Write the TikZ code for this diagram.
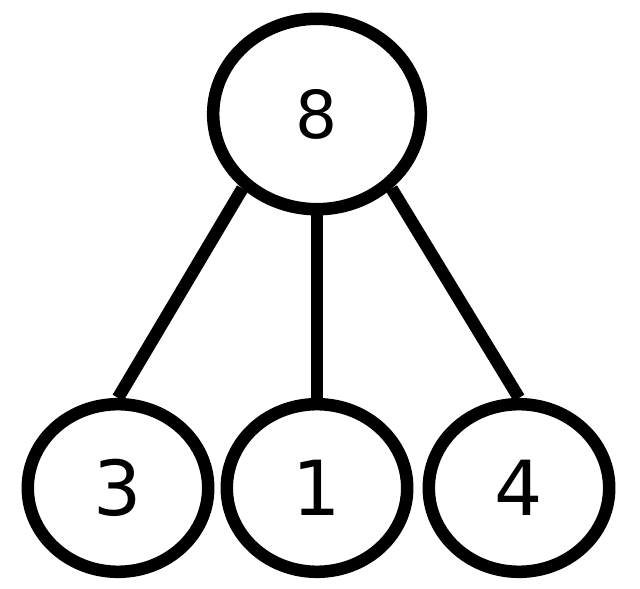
\documentclass[tikz,border=0pt]{standalone}
\usepackage{fontspec}
\setmainfont{DejaVu Sans}
\usetikzlibrary{shapes.geometric}

\begin{document}
\begin{tikzpicture}[
  x=0.025cm,y=-0.025cm,
  bubble/.style={draw=black,ellipse,line width=8.9pt,inner sep=0pt,
    minimum width=4.51cm,minimum height=4.19cm,font=\fontsize{54}{54}\selectfont},
  rootbubble/.style={bubble,minimum width=5.19cm,minimum height=4.76cm,
    font=\fontsize{47}{47}\selectfont},
  line/.style={draw=black,line width=8.9pt},
]
\useasboundingbox (0,0) rectangle (640,589);
\node[rootbubble] (root) at (317,114) {8};
\node[bubble] (c3) at (118,488) {3};
\node[bubble] (c1) at (317,488) {1};
\node[bubble] (c4) at (519,488) {4};
\draw[line] (root.225)--(c3.north);
\draw[line] (root.south)--(c1.north);
\draw[line] (root.-45)--(c4.north);
\end{tikzpicture}
\end{document}
